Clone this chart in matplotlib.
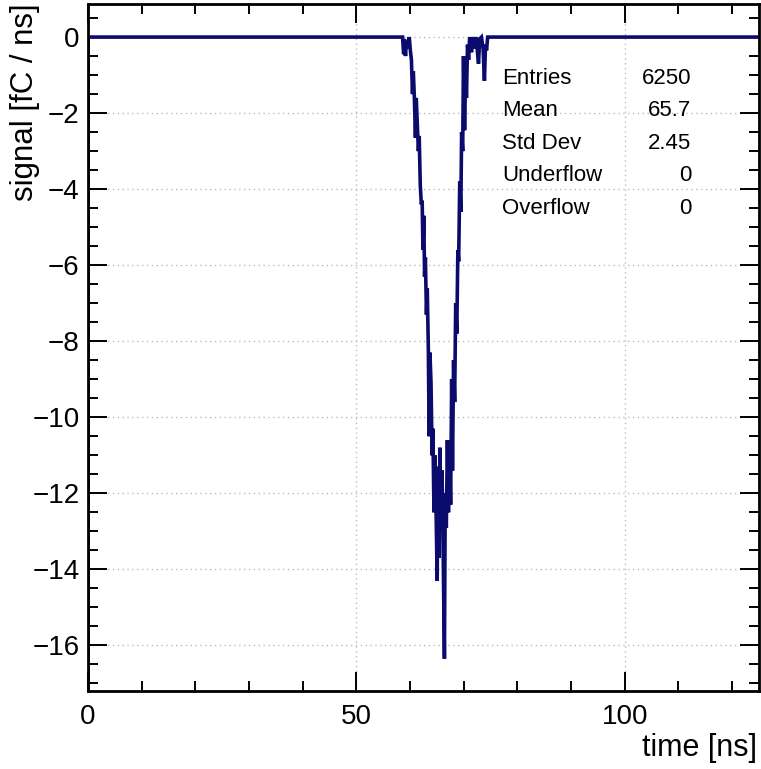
import numpy as np
import matplotlib
matplotlib.use("Agg")
import matplotlib.pyplot as plt
from matplotlib.ticker import MultipleLocator

plt.rcParams['font.family'] = ['Liberation Sans', 'DejaVu Sans']

# waveform vertices (time in ns, signal in fC/ns)
time = [0.0, 58.6, 58.8, 58.95, 59.15, 59.3, 59.6, 59.85, 60.05, 60.25,
        60.45, 60.6, 60.8, 61.0, 61.15, 61.35, 61.55, 61.7, 61.9, 62.1,
        62.25, 62.4, 62.55, 62.7, 62.85, 63.05, 63.2, 63.4, 63.55, 63.7,
        63.9, 64.1, 64.25, 64.45, 64.6, 64.8, 65.05, 65.2, 65.4, 65.55,
        65.75, 65.95, 66.15, 66.4, 66.55, 66.75, 66.95, 67.15, 67.35, 67.55,
        67.75, 67.9, 68.1, 68.3, 68.5, 68.7, 68.9, 69.05, 69.25, 69.45,
        69.6, 69.8, 69.95, 70.15, 70.35, 70.5, 70.7, 70.9, 71.1, 71.45,
        71.65, 72.0, 72.3, 72.75, 72.95, 73.3, 73.6, 73.85, 74.05, 74.25,
        74.45, 125.0]
signal = [0.0, 0.0, -0.45, -0.05, -0.5, -0.1, -0.3, 0.0, -0.35, -0.6,
          -1.5, -0.9, -1.6, -2.65, -1.6, -2.3, -3.0, -2.6, -3.9, -4.4,
          -4.3, -5.6, -4.7, -6.3, -5.8, -7.3, -6.6, -8.2, -10.5, -8.3,
          -9.1, -11.0, -10.3, -12.5, -11.0, -12.1, -14.3, -11.3, -13.7, -10.8,
          -12.9, -11.4, -13.4, -16.35, -12.0, -12.9, -10.6, -12.5, -10.8, -12.3,
          -9.0, -11.4, -8.5, -9.6, -7.0, -7.8, -5.6, -5.9, -3.8, -4.6,
          -2.5, -3.0, -0.5, -2.45, -0.9, -1.6, -0.2, -0.6, 0.0, -0.4,
          0.0, -0.3, 0.0, -0.7, -0.05, 0.0, -0.3, -1.15, -0.2, -0.35,
          0.0, 0.0]

stat_names = ["Entries", "Mean", "Std Dev", "Underflow", "Overflow"]
stat_values = ["6250", "65.7", "2.45", "0", "0"]

fig = plt.figure(figsize=(7.61, 7.69), dpi=100)
ax = fig.add_axes([88/761, 78/769, 671/761, 687/769])

ylo, yhi = -17.2, 0.87
col = '#0b0b6e'
ax.plot([time[0], time[0]], [ylo, signal[0]], color=col, lw=2)
ax.plot(time, signal, color=col, lw=2.6, solid_joinstyle='miter')

ax.set_xlim(0, 125)
ax.set_ylim(ylo, yhi)
ax.xaxis.set_major_locator(MultipleLocator(50))
ax.xaxis.set_minor_locator(MultipleLocator(10))
ax.yaxis.set_major_locator(MultipleLocator(2))
ax.yaxis.set_minor_locator(MultipleLocator(0.5))
ax.tick_params(which='both', direction='in', top=True, right=True,
               labelsize=20, width=1.4, color='black')
ax.tick_params(which='major', length=14)
ax.tick_params(which='minor', length=7)
ax.tick_params(axis='x', which='major', pad=9)
ax.tick_params(axis='y', which='major', pad=6)
for s in ax.spines.values():
    s.set_linewidth(2)
ax.grid(True, which='major', linestyle=(0, (1, 2.5)), color='#bbbbbb', lw=1)

fig.text(757/761, 1 - 748/769, "time [ns]", ha='right', va='center', fontsize=22)
fig.text(25/761, 1 - 3/769, "signal [fC / ns]", ha='center', va='top',
         rotation=90, fontsize=22.5)

for i, (n, v) in enumerate(zip(stat_names, stat_values)):
    y = 1 - (78 + 32.6 * i) / 769
    fig.text(502/761, y, n, ha='left', va='center', fontsize=16)
    fig.text(691/761, y, v, ha='right', va='center', fontsize=16)

fig.savefig("out.png", dpi=100)
